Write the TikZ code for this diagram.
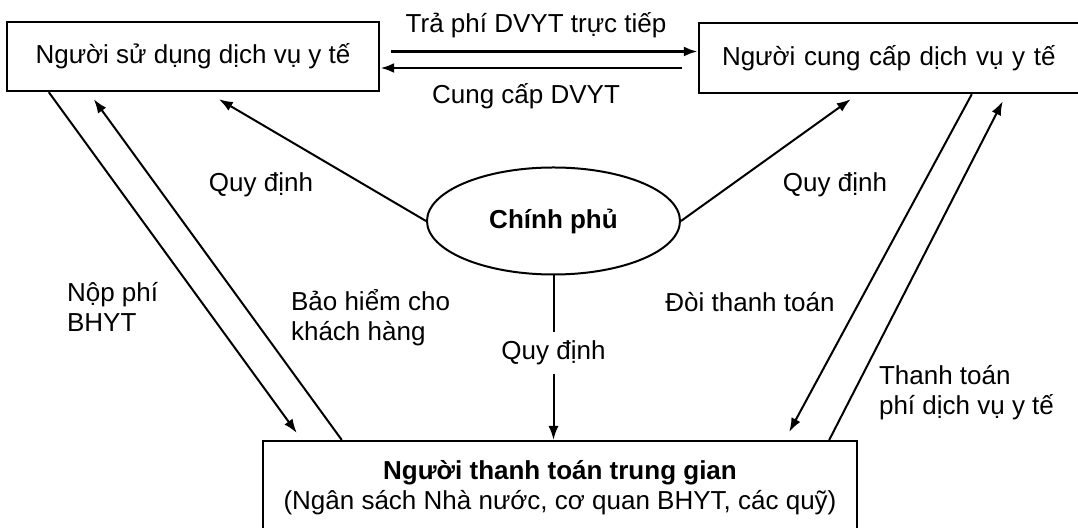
\documentclass[tikz,border=0pt]{standalone}
\usepackage{fontspec}
\setmainfont{Liberation Sans}
\usetikzlibrary{positioning, arrows.meta, shapes.geometric, calc}

\begin{document}
\begin{tikzpicture}[x=0.5pt, y=-0.5pt,
    font=\fontsize{13}{15}\selectfont,
    box/.style={draw, line width=1.2pt, rectangle, inner sep=0pt},
    flow/.style={line width=1pt, -{Latex[length=7pt, width=5pt]}}]
    \useasboundingbox (0,0) rectangle (1078,528);

    % Actors
    \node[box, minimum width=186pt, minimum height=34.5pt] (user) at (193,56.5) {Người sử dụng dịch vụ y tế};
    \node[box, minimum width=191.5pt, minimum height=35pt, text width=168.5pt, inner xsep=11.5pt, align=left] (provider) at (890.5,58) {Người cung cấp dịch vụ y tế};
    \node[box, anchor=north, minimum width=297pt, minimum height=46pt, align=center] (payer) at (560,440) {\textbf{Người thanh toán trung gian}\\(Ngân sách Nhà nước, cơ quan BHYT, các quỹ)};
    \node[draw, ellipse, line width=1pt, minimum width=126.5pt, minimum height=53.5pt, font=\fontsize{13}{15}\selectfont\bfseries] (gov) at (553.5,221) {Chính phủ};

    % Direct payment between user and provider
    \draw[flow, line width=1.4pt] ($(user.east)+(11,-5)$) coordinate (pay) -- (pay -| provider.west);
    \draw[flow, line width=1.4pt] ($(provider.west)+(-16,10)$) coordinate (serve) -- (serve -| user.east);
    \node (payText) at (536,25) {Trả phí DVYT trực tiếp};
    \node (serveText) at (526,96) {Cung cấp DVYT};

    % Government regulations
    \draw[flow] (gov.west) -- ($(user.south west)+(213,7)$);
    \draw[flow] (gov.east) -- ($(provider.south west)+(153,5)$);
    \draw[flow] (gov.south) -- node[fill=white, pos=0.47, inner xsep=2pt, inner ysep=4.5pt] (ruleMid) {Quy định} (gov.south |- payer.north);
    \node (ruleLeft) at (261,185) {Quy định};
    \node (ruleRight) at (835,185) {Quy định};

    % Insurance between user and payer
    \draw[flow] ($(user.south west)+(43,0)$) -- ($(payer.north west)+(35,-7)$);
    \draw[flow] ($(payer.north west)+(80,0)$) -- ($(user.south west)+(88,7)$);
    \node[align=left, anchor=west] (feeText) at (60,307) {Nộp phí\\BHYT};
    \node[align=left, anchor=west] (coverText) at (284,318) {Bảo hiểm cho\\khách hàng};

    % Claims between provider and payer
    \draw[flow] ($(provider.south west)+(274,0)$) -- ($(payer.north east)+(-69,-8)$);
    \draw[flow] ($(payer.north east)+(-29,0)$) -- ($(provider.south west)+(305,7)$);
    \node (claimText) at (750,302) {Đòi thanh toán};
    \node[align=left, anchor=west] (settleText) at (872,393) {Thanh toán\\phí dịch vụ y tế};
\end{tikzpicture}
\end{document}
